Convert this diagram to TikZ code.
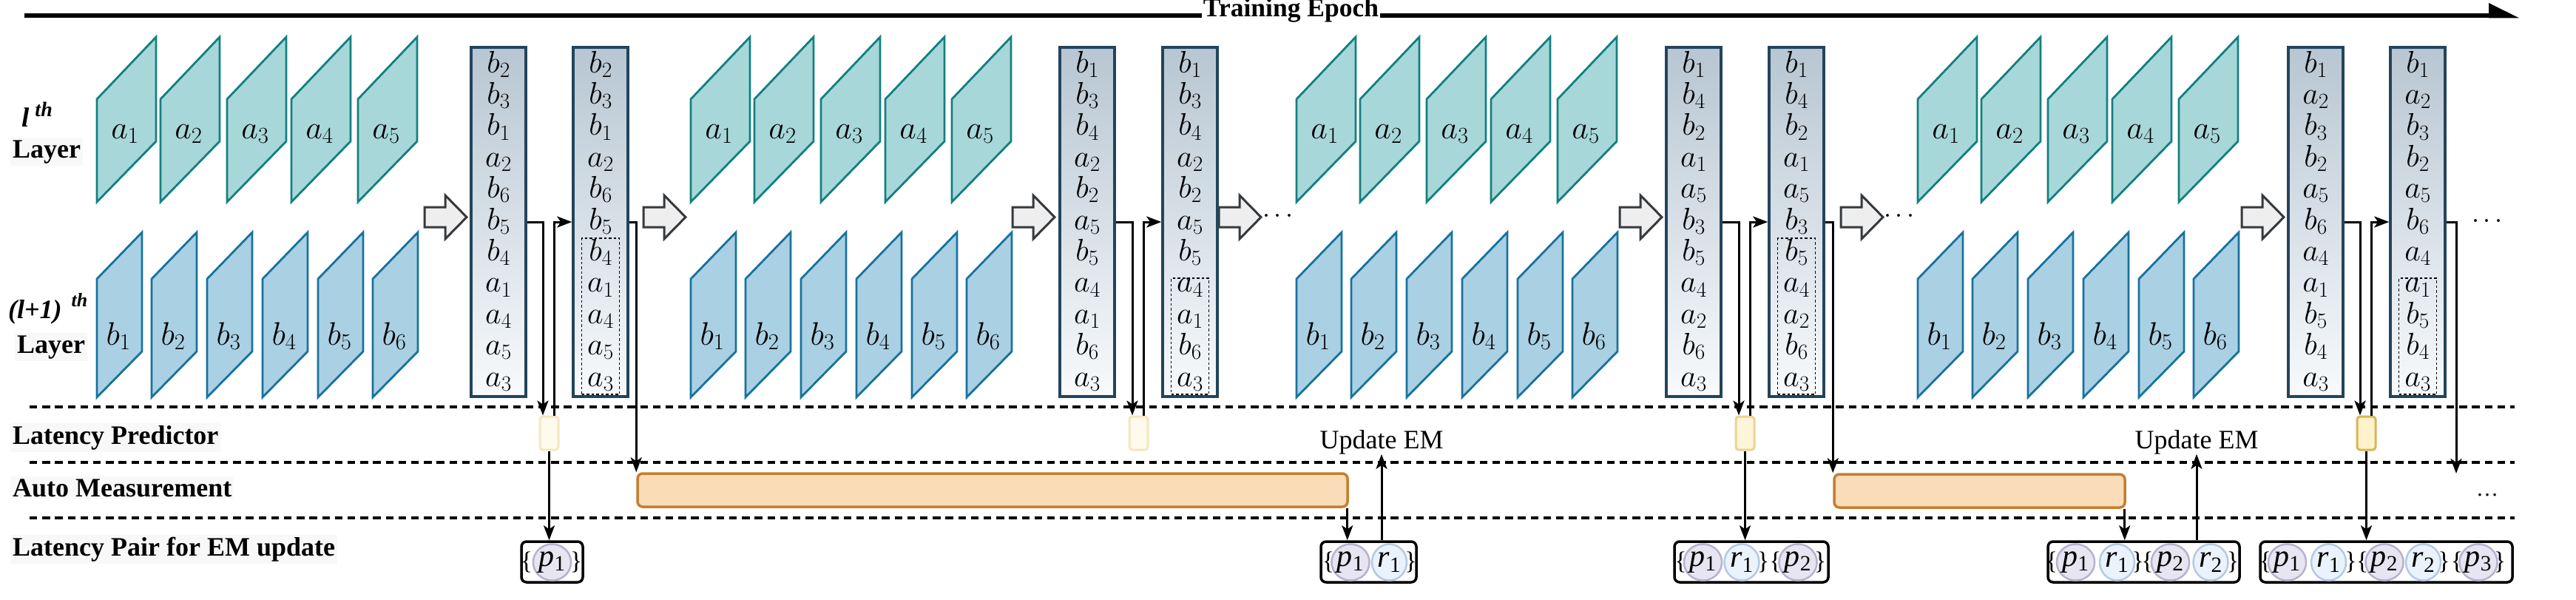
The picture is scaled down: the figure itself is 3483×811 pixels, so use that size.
\documentclass[tikz,border=0pt]{standalone}
\usepackage{fix-cm}
\usepackage[no-math]{fontspec}
\setmainfont{Liberation Serif}
\usetikzlibrary{arrows.meta,fit,shapes.geometric}

\definecolor{cAFill}{HTML}{A8D7DA}
\definecolor{cALine}{HTML}{12807F}
\definecolor{cBFill}{HTML}{AAD0E3}
\definecolor{cBLine}{HTML}{17729E}
\definecolor{cColTop}{HTML}{B7C6D2}
\definecolor{cColBot}{HTML}{F8FAFC}
\definecolor{cColLine}{HTML}{23445D}
\definecolor{cHFill}{HTML}{EEEEEE}
\definecolor{cHLine}{HTML}{36393D}
\definecolor{cOFill}{HTML}{FADCB8}
\definecolor{cOLine}{HTML}{C47F2F}
\definecolor{cLpaFill}{HTML}{FFFAEB}
\definecolor{cLpaLine}{HTML}{F4E6BF}
\definecolor{cLpbFill}{HTML}{FEF4DA}
\definecolor{cLpbLine}{HTML}{EAD48F}
\definecolor{cLpcFill}{HTML}{FFF2CC}
\definecolor{cLpcLine}{HTML}{D6B656}
\definecolor{cPFill}{HTML}{E7E5F1}
\definecolor{cPLine}{HTML}{B7B2CD}
\definecolor{cRFill}{HTML}{EAF2FB}
\definecolor{cRLine}{HTML}{B5C9E4}
\definecolor{cLabBg}{HTML}{F8F8F8}

\newcommand{\aparas}[2]{%
  \foreach \dd [count=\kk] in {0,86,176,263,353} {
    \draw[apara] ({#1+\dd},134) -- ({#1+\dd},273) -- ({#1+\dd+80},191) -- ({#1+\dd+80},50) -- cycle;
    \node[plabel, anchor=base] (a#2n\kk) at ({#1+\dd+38},187) {$a_{\kk}$};
  }}
\newcommand{\bparas}[2]{%
  \foreach \dd [count=\kk] in {0,74,149,224,299,373} {
    \draw[bpara] ({#1+\dd},377) -- ({#1+\dd},537) -- ({#1+\dd+61},475) -- ({#1+\dd+61},314) -- cycle;
    \node[plabel, anchor=base] (b#2n\kk) at ({#1+\dd+29},466) {$b_{\kk}$};
  }}
\newcommand{\hollowarrow}[1]{%
  \draw[hollow] (#1,280) -- ({#1+28},280) -- ({#1+28},264) -- ({#1+57},293.5) -- ({#1+28},323) -- ({#1+28},307) -- (#1,307) -- cycle;}
\newcommand{\mkcol}[3]{%
  \node[colbox] (#1) at (#2,300) {};
  \foreach \lbl [count=\ii] in {#3}
    \node[rowtxt, anchor=base] (#1r\ii) at (#2,{98+42.4*(\ii-1)}) {$\lbl$};}

\begin{document}
\begin{tikzpicture}[x=1pt,y=-1pt,
  apara/.style={fill=cAFill, draw=cALine, line width=2.8pt},
  bpara/.style={fill=cBFill, draw=cBLine, line width=2.8pt},
  plabel/.style={font=\fontsize{44}{44}\selectfont, inner sep=0pt},
  colbox/.style={draw=cColLine, line width=3.5pt, top color=cColTop, bottom color=cColBot, minimum width=74pt, minimum height=472pt, inner sep=0pt},
  rowtxt/.style={font=\fontsize{42}{42}\selectfont, inner sep=0pt},
  dbox/.style={draw=black, line width=1.6pt, dash pattern=on 3.5pt off 3pt, inner sep=0pt},
  hollow/.style={fill=cHFill, draw=cHLine, line width=3pt},
  conn/.style={line width=3pt, -{Stealth[length=20pt,width=15pt,inset=5pt]}},
  lpbox/.style={rounded corners=4pt, minimum width=25pt, minimum height=45pt, inner sep=0pt, line width=3pt},
  obar/.style={fill=cOFill, draw=cOLine, line width=3.5pt, rounded corners=7pt, inner sep=0pt},
  pairbox/.style={draw=black, line width=3.5pt, rounded corners=7pt, inner sep=0pt},
  pell/.style={ellipse, minimum width=47pt, minimum height=49pt, inner sep=0pt, line width=2.5pt, fill=cPFill, draw=cPLine, font=\fontsize{42}{42}\selectfont},
  rell/.style={ellipse, minimum width=47pt, minimum height=49pt, inner sep=0pt, line width=2.5pt, fill=cRFill, draw=cRLine, font=\fontsize{42}{42}\selectfont},
  brc/.style={inner sep=0pt, font=\fontsize{34}{34}\selectfont},
  lab/.style={font=\fontsize{36}{40}\selectfont\bfseries, fill=cLabBg, inner sep=3pt},
  updtxt/.style={font=\fontsize{36}{40}\selectfont, inner sep=0pt},
  dline/.style={line width=3.3pt, dash pattern=on 10.3pt off 6.9pt}
]
\useasboundingbox (0,0) rectangle (3483,811);

% ---------- top training epoch arrow ----------
\coordinate (te0) at (33,21);
\coordinate (te1) at (3366,21);
\draw[line width=6.4pt] (te0) -- (te1);
\fill (3365,4) -- (3406,24.3) -- (3365,24.3) -- cycle;
\node[font=\fontsize{35.5}{36}\selectfont\bfseries, fill=white, inner xsep=2pt, inner ysep=0pt, anchor=base] (te) at (1745.5,23) {Training Epoch};

% ---------- dashed separators ----------
\draw[dline] (40,550) -- (3400,550);
\draw[dline] (40,625) -- (3400,625);
\draw[dline] (40,700) -- (3400,700);

% ---------- left labels ----------
\node[anchor=base west, inner sep=0pt, font=\fontsize{37}{37}\selectfont\bfseries\itshape] (lth1) at (29,171) {l\hspace{8pt}\raisebox{14pt}{\fontsize{28}{28}\selectfont th}};
\node[lab, anchor=base west] (lay1) at (14,213) {Layer};
\node[anchor=base west, inner sep=0pt, font=\fontsize{36}{36}\selectfont\bfseries\itshape] (lth2) at (11,430) {(l+1)\hspace{13pt}\raisebox{16pt}{\fontsize{26}{26}\selectfont th}};
\node[lab, anchor=base west] (lay2) at (20,477) {Layer};
\node[lab, anchor=base west] (lblLP) at (14,600) {Latency Predictor};
\node[lab, anchor=base west] (lblAM) at (14,671) {Auto Measurement};
\node[lab, anchor=base west] (lblPair) at (14,751) {Latency Pair for EM update};

% ---------- layer blocks ----------
\aparas{131}{s1}  \bparas{131}{s1}
\aparas{934}{s2}  \bparas{934}{s2}
\aparas{1753}{s3} \bparas{1753}{s3}
\aparas{2593}{s4} \bparas{2593}{s4}

% ---------- hollow arrows ----------
\hollowarrow{574}
\hollowarrow{870}
\hollowarrow{1369}
\hollowarrow{1648}
\hollowarrow{2190}
\hollowarrow{2489}
\hollowarrow{3031}

% ---------- columns ----------
\mkcol{c1}{674}{b_2,b_3,b_1,a_2,b_6,b_5,b_4,a_1,a_4,a_5,a_3}
\mkcol{c2}{812}{b_2,b_3,b_1,a_2,b_6,b_5,b_4,a_1,a_4,a_5,a_3}
\mkcol{c3}{1470}{b_1,b_3,b_4,a_2,b_2,a_5,b_5,a_4,a_1,b_6,a_3}
\mkcol{c4}{1609}{b_1,b_3,b_4,a_2,b_2,a_5,b_5,a_4,a_1,b_6,a_3}
\mkcol{c5}{2290}{b_1,b_4,b_2,a_1,a_5,b_3,b_5,a_4,a_2,b_6,a_3}
\mkcol{c6}{2429}{b_1,b_4,b_2,a_1,a_5,b_3,b_5,a_4,a_2,b_6,a_3}
\mkcol{c7}{3131}{b_1,a_2,b_3,b_2,a_5,b_6,a_4,a_1,b_5,b_4,a_3}
\mkcol{c8}{3269}{b_1,a_2,b_3,b_2,a_5,b_6,a_4,a_1,b_5,b_4,a_3}

\node[dbox, fit={(786.5,322) (837.5,533)}] (d2) {};
\node[dbox, fit={(1583.5,376) (1634.5,533)}] (d4) {};
\node[dbox, fit={(2403.5,322) (2454.5,533)}] (d6) {};
\node[dbox, fit={(3243.5,376) (3294.5,533)}] (d8) {};

% ---------- dots ----------
\node[font=\fontsize{36}{36}\selectfont, anchor=base, inner sep=0pt] (dots1) at (1728,300) {$\cdots$};
\node[font=\fontsize{36}{36}\selectfont, anchor=base, inner sep=0pt] (dots2) at (2568,300) {$\cdots$};
\node[font=\fontsize{36}{36}\selectfont, anchor=base, inner sep=0pt] (dots3) at (3363,307) {$\cdots$};
\node[font=\fontsize{30}{30}\selectfont, anchor=base, inner sep=0pt] (dots4) at (3363,670) {\ldots};

% ---------- latency predictor boxes ----------
\node[lpbox, fill=cLpaFill, draw=cLpaLine] (lp1) at (742.5,585.5) {};
\node[lpbox, fill=cLpaFill, draw=cLpaLine] (lp2) at (1539.5,585.5) {};
\node[lpbox, fill=cLpbFill, draw=cLpbLine] (lp3) at (2359.5,585.5) {};
\node[lpbox, fill=cLpcFill, draw=cLpcLine] (lp4) at (3199.5,585.5) {};

% ---------- auto measurement bars ----------
\node[obar, fit={(862,640) (1822,685)}] (ob1) {};
\node[obar, fit={(2480,641) (2873,686)}] (ob2) {};

% ---------- update EM labels ----------
\node[updtxt, anchor=base] (upd1) at (1868,606) {Update EM};
\node[updtxt, anchor=base] (upd2) at (2970,606) {Update EM};

% ---------- latency pair boxes ----------
\node[pairbox, fit={(705,732) (788,787)}] (pb1) {};
\node[brc] (pb1b1) at (712,760) {\{};
\node[pell] (pb1p1) at (746.5,760) {\textit{p}\textsubscript{1}};
\node[brc] (pb1b2) at (779,760) {\}};

\node[pairbox, fit={(1786,732) (1915,787)}] (pb2) {};
\node[brc] (pb2b1) at (1796,760) {\{};
\node[pell] (pb2p1) at (1826,760) {\textit{p}\textsubscript{1}};
\node[rell] (pb2r1) at (1878.5,760) {\textit{r}\textsubscript{1}};
\node[brc] (pb2b2) at (1907.5,760) {\}};

\node[pairbox, fit={(2264,732) (2472,787)}] (pb3) {};
\node[brc] (pb3b1) at (2272.5,760) {\{};
\node[pell] (pb3p1) at (2302.5,760) {\textit{p}\textsubscript{1}};
\node[rell] (pb3r1) at (2355,760) {\textit{r}\textsubscript{1}};
\node[brc] (pb3b2) at (2384,760) {\}};
\node[brc] (pb3b3) at (2400.5,760) {\{};
\node[pell] (pb3p2) at (2431,760) {\textit{p}\textsubscript{2}};
\node[brc] (pb3b4) at (2461,760) {\}};

\node[pairbox, fit={(2769,732) (3028,787)}] (pb4) {};
\node[brc] (pb4b1) at (2774,760) {\{};
\node[pell] (pb4p1) at (2806.5,760) {\textit{p}\textsubscript{1}};
\node[rell] (pb4r1) at (2862.5,760) {\textit{r}\textsubscript{1}};
\node[brc] (pb4b2) at (2890.5,760) {\}};
\node[brc] (pb4b3) at (2903.5,760) {\{};
\node[pell] (pb4p2) at (2934.5,760) {\textit{p}\textsubscript{2}};
\node[rell] (pb4r2) at (2989,760) {\textit{r}\textsubscript{2}};
\node[brc] (pb4b4) at (3019,760) {\}};

\node[pairbox, fit={(3056,732) (3397,787)}] (pb5) {};
\node[brc] (pb5b1) at (3063,760) {\{};
\node[pell] (pb5p1) at (3092.5,760) {\textit{p}\textsubscript{1}};
\node[rell] (pb5r1) at (3148.5,760) {\textit{r}\textsubscript{1}};
\node[brc] (pb5b2) at (3178.5,760) {\}};
\node[brc] (pb5b3) at (3194,760) {\{};
\node[pell] (pb5p2) at (3224,760) {\textit{p}\textsubscript{2}};
\node[rell] (pb5r2) at (3276.5,760) {\textit{r}\textsubscript{2}};
\node[brc] (pb5b4) at (3304.5,760) {\}};
\node[brc] (pb5b5) at (3322,760) {\{};
\node[pell] (pb5p3) at (3351,760) {\textit{p}\textsubscript{3}};
\node[brc] (pb5b6) at (3380,760) {\}};

% ---------- connectors ----------
% segment 1
\draw[conn] (c1.east) -| ([xshift=-8.5pt]lp1.north);
\draw[conn] ([xshift=6.5pt]lp1.north) |- (c2.west);
\draw[conn] (c2.east) -| (ob1.north west);
\draw[conn] (lp1.south) -- (lp1.south |- pb1.north);
% segment 2
\draw[conn] (c3.east) -| ([xshift=-8.5pt]lp2.north);
\draw[conn] ([xshift=6.5pt]lp2.north) |- (c4.west);
\coordinate (o1) at ([xshift=-2pt]ob1.south east);
\draw[conn] (o1) -- (o1 |- pb2.north);
\draw[conn] (pb2.north -| upd1.south) -- (upd1.south);
% segment 3
\draw[conn] (c5.east) -| ([xshift=-8.5pt]lp3.north);
\draw[conn] ([xshift=6.5pt]lp3.north) |- (c6.west);
\draw[conn] (lp3.south) -- (lp3.south |- pb3.north);
\draw[conn] (c6.east) -| (ob2.north west);
\coordinate (o2) at ([xshift=-2pt]ob2.south east);
\draw[conn] (o2) -- (o2 |- pb4.north);
\draw[conn] (pb4.north -| upd2.south) -- (upd2.south);
% segment 4
\draw[conn] (c7.east) -| ([xshift=-8.5pt]lp4.north);
\draw[conn] ([xshift=6.5pt]lp4.north) |- (c8.west);
\draw[conn] (lp4.south) -- (lp4.south |- pb5.north);
\coordinate (endAM) at (3321,640);
\draw[conn] (c8.east) -| (endAM);
\end{tikzpicture}
\end{document}
